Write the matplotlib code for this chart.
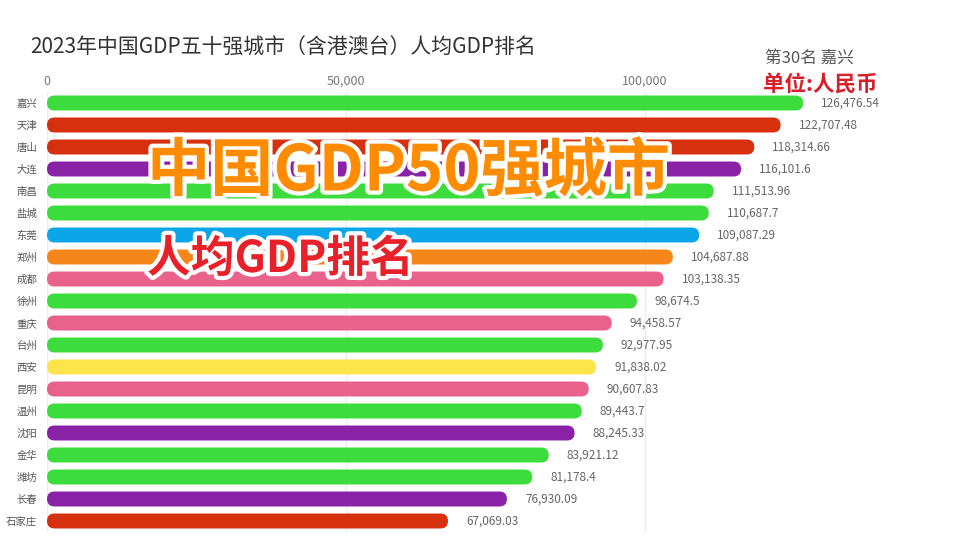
import numpy as np
import matplotlib
matplotlib.use('Agg')
import matplotlib.pyplot as plt
import matplotlib.patheffects as pe
from matplotlib.patches import FancyBboxPatch
from matplotlib.ticker import FuncFormatter

plt.rcParams['font.family'] = ['Noto Sans CJK SC', 'DejaVu Sans']

cities = ['嘉兴', '天津', '唐山', '大连', '南昌', '盐城', '东莞', '郑州', '成都', '徐州',
          '重庆', '台州', '西安', '昆明', '温州', '沈阳', '金华', '潍坊', '长春', '石家庄']
gdp_pc = [126476.54, 122707.48, 118314.66, 116101.6, 111513.96, 110687.7, 109087.29,
          104687.88, 103138.35, 98674.5, 94458.57, 92977.95, 91838.02, 90607.83,
          89443.7, 88245.33, 83921.12, 81178.4, 76930.09, 67069.03]
value_labels = ['126,476.54', '122,707.48', '118,314.66', '116,101.6', '111,513.96',
                '110,687.7', '109,087.29', '104,687.88', '103,138.35', '98,674.5',
                '94,458.57', '92,977.95', '91,838.02', '90,607.83', '89,443.7',
                '88,245.33', '83,921.12', '81,178.4', '76,930.09', '67,069.03']
bar_colors = ['#3ddc3d', '#d6300e', '#d6300e', '#8a22a8', '#3ddc3d', '#3ddc3d', '#0aa6e9',
              '#f5861a', '#e9628c', '#3ddc3d', '#e9628c', '#3ddc3d', '#fde34c', '#e9628c',
              '#3ddc3d', '#8a22a8', '#3ddc3d', '#3ddc3d', '#8a22a8', '#d6300e']
xticks = [0, 50000, 100000]

W, H = 956, 538
fig = plt.figure(figsize=(W / 100, H / 100), dpi=100)
fig.patch.set_facecolor('white')

# axes box in pixels
ax_l, ax_r, ax_t, ax_b = 47, 884, 92, 532
ax = fig.add_axes([ax_l / W, 1 - ax_b / H, (ax_r - ax_l) / W, (ax_b - ax_t) / H])
xmax = 140000
n = len(cities)
ax.set_xlim(0, xmax)
ax.set_ylim(n - 0.5, -0.5)

# rounded bars: keep the corner radius round in pixels
ux = xmax / (ax_r - ax_l)
uy = n / (ax_b - ax_t)
asp = uy / ux
h = 0.68
ypos = np.arange(n)
for y, v, c in zip(ypos, gdp_pc, bar_colors):
    p = FancyBboxPatch((0, y - h / 2), v, h,
                       boxstyle='round,pad=0,rounding_size=%f' % (h / 2 / asp),
                       mutation_aspect=asp, fc=c, ec='none', zorder=3)
    ax.add_patch(p)
    ax.annotate(value_labels[y], xy=(v, y), xytext=(13, 0), textcoords='offset points',
                va='center', ha='left', fontsize=8.5, color='#666666')

ax.set_yticks(ypos)
ax.set_yticklabels(cities, fontsize=7.5, color='#555555')
ax.set_xticks(xticks)
ax.xaxis.set_major_formatter(FuncFormatter(lambda x, p: '{:,.0f}'.format(x)))
ax.xaxis.tick_top()
ax.tick_params(axis='x', length=0, pad=3, labelsize=9, labelcolor='#777777')
ax.tick_params(axis='y', length=0, pad=7)
ax.grid(axis='x', color='#ececec', lw=1, zorder=0)
ax.set_axisbelow(True)
for s in ax.spines.values():
    s.set_visible(False)

# titles
fig.text(30 / W, 1 - 48 / H, '2023年中国GDP五十强城市（含港澳台）人均GDP排名',
         fontsize=15, color='#333333', va='center', ha='left')
fig.text(765 / W, 1 - 58 / H, '第30名 嘉兴', fontsize=12, color='#555555',
         va='center', ha='left')
fig.text(763 / W, 1 - 84 / H, '单位:人民币', fontsize=15.5, color='#d8202a',
         fontweight='bold', va='center', ha='left')

# overlay captions
stroke = [pe.withStroke(linewidth=6, foreground='white')]
fig.text(147 / W, 1 - 172 / H, '中国GDP50强城市', fontsize=45.5, color='#ff8c00',
         fontweight='bold', va='center', ha='left', path_effects=stroke, zorder=10)
fig.text(147 / W, 1 - 259 / H, '人均GDP排名', fontsize=31.5, color='#e8202a',
         fontweight='bold', va='center', ha='left', path_effects=stroke, zorder=10)

fig.savefig('out.png', dpi=100, facecolor='white')
